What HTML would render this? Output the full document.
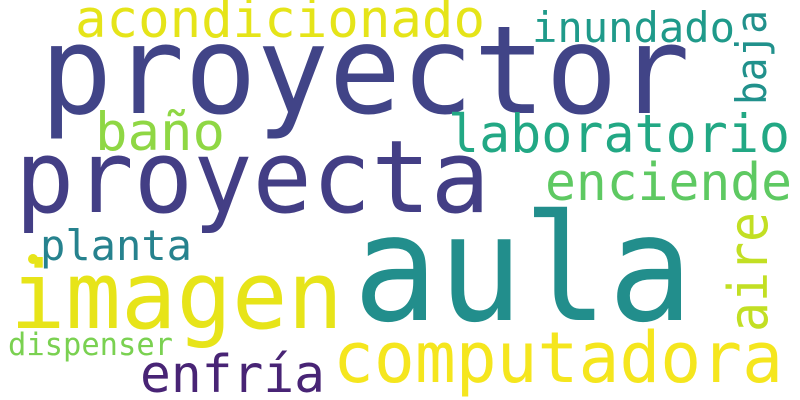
<!DOCTYPE html>
<html><head><meta charset="utf-8"><style>
html,body{margin:0;padding:0;background:#fff;}
svg{display:block;}
text{font-family:"DejaVu Sans Mono","Liberation Mono",monospace;}
</style></head><body>
<svg width="800" height="400" viewBox="0 0 800 400">
<rect width="800" height="400" fill="#fff"/>
<text x="40" y="113" font-size="122" fill="#414487" textLength="650" lengthAdjust="spacingAndGlyphs">proyector</text>
<text x="15" y="212" font-size="101" fill="#433e85" textLength="475" lengthAdjust="spacingAndGlyphs">proyecta</text>
<text x="353" y="320" font-size="148" fill="#228e8c" textLength="340" lengthAdjust="spacingAndGlyphs">aula</text>
<text x="10" y="328" font-size="94" fill="#e7e419" textLength="333" lengthAdjust="spacingAndGlyphs">imagen</text>
<text x="333" y="382" font-size="70" fill="#f5e61e" textLength="450" lengthAdjust="spacingAndGlyphs">computadora</text>
<text x="75" y="37" font-size="53" fill="#e5e419" textLength="410" lengthAdjust="spacingAndGlyphs">acondicionado</text>
<text x="532" y="42" font-size="42" fill="#1f9a8a" textLength="203" lengthAdjust="spacingAndGlyphs">inundado</text>
<text transform="translate(766,105) rotate(-90)" font-size="42" fill="#21918c" textLength="95" lengthAdjust="spacingAndGlyphs">baja</text>
<text x="448" y="152" font-size="53" fill="#22a884" textLength="342" lengthAdjust="spacingAndGlyphs">laboratorio</text>
<text x="95" y="150" font-size="53" fill="#8fd744" textLength="130" lengthAdjust="spacingAndGlyphs">baño</text>
<text x="545" y="200" font-size="52" fill="#5ec962" textLength="247" lengthAdjust="spacingAndGlyphs">enciende</text>
<text x="40" y="260" font-size="42" fill="#26828e" textLength="152" lengthAdjust="spacingAndGlyphs">planta</text>
<circle cx="33" cy="259" r="5" fill="#e7e419"/>
<text transform="translate(767,332) rotate(-90)" font-size="54" fill="#c2df23" textLength="120" lengthAdjust="spacingAndGlyphs">aire</text>
<text x="8" y="355" font-size="31" fill="#7ad151" textLength="165" lengthAdjust="spacingAndGlyphs">dispenser</text>
<text x="140" y="392" font-size="52" fill="#482475" textLength="185" lengthAdjust="spacingAndGlyphs">enfría</text>
</svg>
</body></html>
